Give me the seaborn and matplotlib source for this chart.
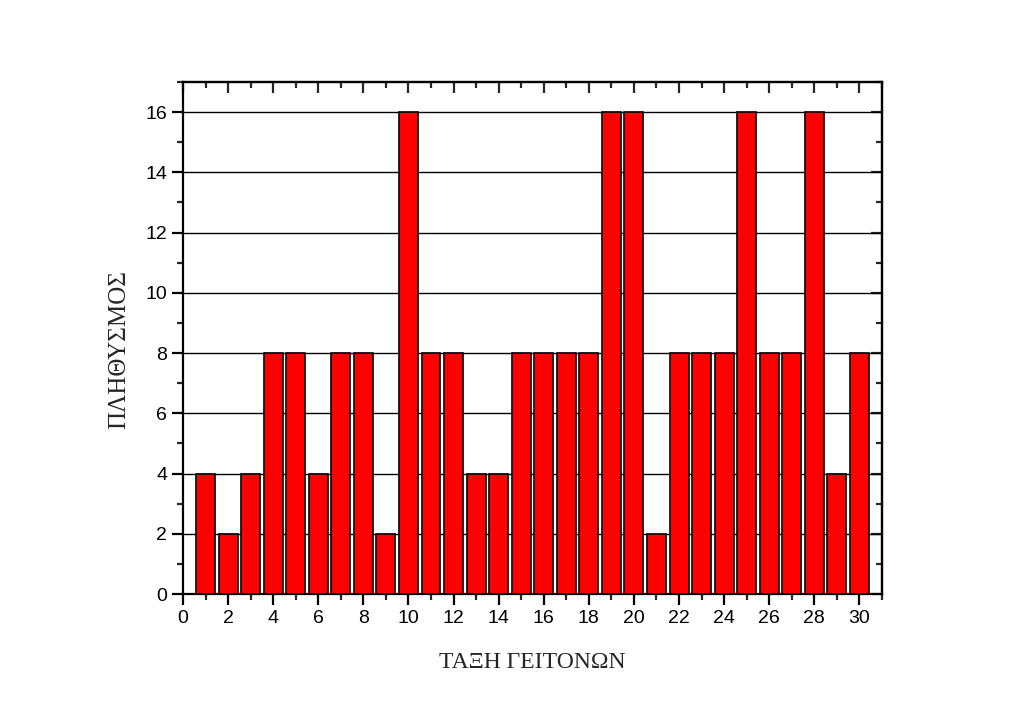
import numpy as np
import pandas as pd
import seaborn as sns
import matplotlib.pyplot as plt
from matplotlib.ticker import MultipleLocator

# neighbour rank and count
rank = list(range(1, 31))
count = [4, 2, 4, 8, 8, 4, 8, 8, 2, 16,
         8, 8, 4, 4, 8, 8, 8, 8, 16, 16,
         2, 8, 8, 8, 16, 8, 8, 16, 4, 8]

df = pd.DataFrame({"rank": rank, "count": count})

sns.set_style("white")
plt.rcParams["font.family"] = ["Liberation Sans", "DejaVu Sans"]

fig = plt.figure(figsize=(10.24, 7.12), dpi=100)
ax = fig.add_axes([0.1787, 0.1657, 0.6826, 0.7191])

sns.barplot(data=df, x="rank", y="count", native_scale=True, width=0.84,
            color="#ff0000", saturation=1, edgecolor="black", linewidth=1.2, ax=ax, zorder=3)

ax.set_xlim(0, 31)
ax.set_ylim(0, 17)
ax.xaxis.set_major_locator(MultipleLocator(2))
ax.xaxis.set_minor_locator(MultipleLocator(1))
ax.yaxis.set_major_locator(MultipleLocator(2))
ax.yaxis.set_minor_locator(MultipleLocator(1))
ax.set_xticks(range(0, 31, 2))
ax.grid(axis="y", which="major", color="black", linewidth=1, zorder=0)
ax.set_axisbelow(True)

for s in ax.spines.values():
    s.set_linewidth(1.6)
    s.set_color("black")

ax.tick_params(axis="both", which="major", direction="out", length=8, width=1.6,
               labelsize=14, colors="black", bottom=True, left=True)
ax.tick_params(axis="both", which="minor", direction="out", length=4.5, width=1.6,
               bottom=True, left=True)

# mirrored inward ticks on top and right
top = ax.secondary_xaxis("top")
top.xaxis.set_major_locator(MultipleLocator(2))
top.xaxis.set_minor_locator(MultipleLocator(1))
top.tick_params(which="major", direction="in", length=8, width=1.6, labeltop=False)
top.tick_params(which="minor", direction="in", length=4.5, width=1.6)
top.spines["top"].set_linewidth(1.6)
right = ax.secondary_yaxis("right")
right.yaxis.set_major_locator(MultipleLocator(2))
right.yaxis.set_minor_locator(MultipleLocator(1))
right.tick_params(which="major", direction="in", length=8, width=1.6, labelright=False)
right.tick_params(which="minor", direction="in", length=4.5, width=1.6)
right.spines["right"].set_linewidth(1.6)

ax.set_xlabel("ΤΑΞΗ ΓΕΙΤΟΝΩΝ", family=["Liberation Serif", "DejaVu Serif"], fontsize=17, labelpad=18)
ax.set_ylabel("ΠΛΗΘΥΣΜΟΣ", family=["Liberation Serif", "DejaVu Serif"], fontsize=18)
ax.yaxis.set_label_coords(-0.075, 0.478)

fig.savefig("out.png", dpi=100, facecolor="white")
